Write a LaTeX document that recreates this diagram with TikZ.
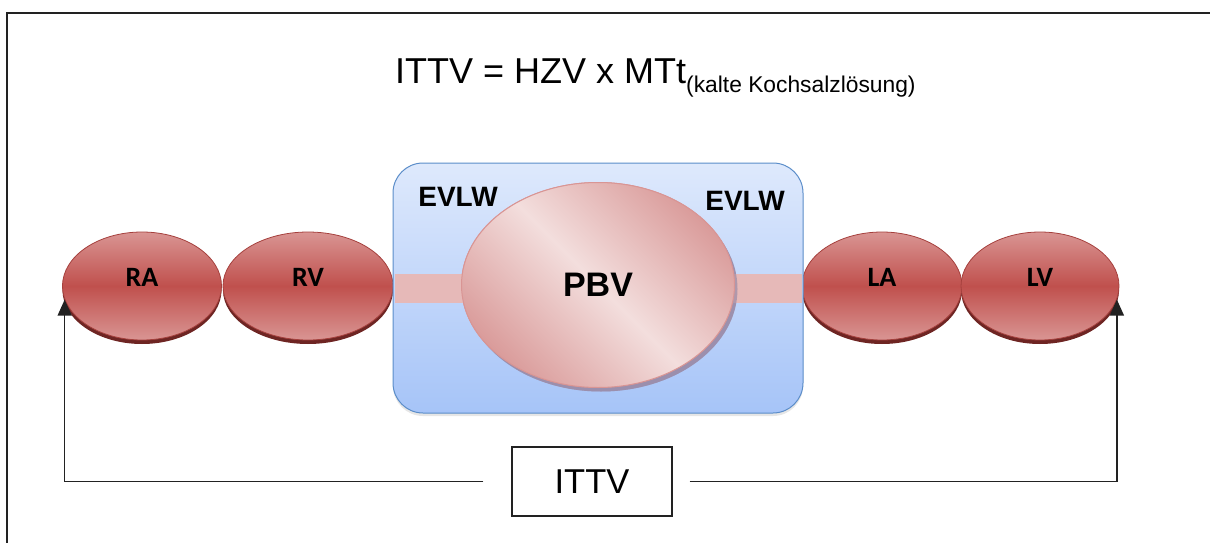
\documentclass[tikz,border=0pt]{standalone}
\usepackage{fontspec}
\setmainfont{Liberation Sans}
\newfontfamily\chamberfont{Carlito}
\usetikzlibrary{shapes.geometric,shadows,arrows.meta,positioning}

\definecolor{chambermid}{HTML}{C0504D}
\definecolor{chamberrim}{HTML}{D99593}
\definecolor{chamberline}{HTML}{A5403D}
\definecolor{chambershade}{HTML}{6E2523}
\definecolor{lungtop}{HTML}{DEE9FC}
\definecolor{lungbot}{HTML}{A6C4F8}
\definecolor{lungline}{HTML}{5B8DC9}
\definecolor{pbvlight}{HTML}{F3DEDD}
\definecolor{pbvdark}{HTML}{DA9C9B}
\definecolor{pbvline}{HTML}{D99594}
\definecolor{pbvshade}{HTML}{9A8AA6}
\definecolor{vessel}{HTML}{E6B9B8}
\definecolor{ink}{HTML}{222222}

\begin{document}
\begin{tikzpicture}[x=1pt, y=-1pt,
    chamber/.style={ellipse, draw=chamberline, line width=0.8pt, inner sep=0pt,
      minimum height=108pt, top color=chamberrim, bottom color=chamberrim,
      middle color=chambermid,
      drop shadow={shadow xshift=0pt, shadow yshift=-4pt, opacity=1, fill=chambershade}},
    chamberlbl/.style={font=\chamberfont\bfseries\fontsize{28}{30}\selectfont, yshift=9pt},
    lungbox/.style={rectangle, rounded corners=30pt, draw=lungline, line width=1pt,
      minimum width=410pt, minimum height=250pt, top color=lungtop, bottom color=lungbot,
      drop shadow={shadow xshift=0pt, shadow yshift=-3pt, opacity=.2}},
    bloodpool/.style={ellipse, draw=pbvline, line width=1pt, inner sep=0pt,
      minimum width=273pt, minimum height=205pt, shading=axis, top color=pbvdark,
      bottom color=pbvdark, middle color=pbvlight, shading angle=-45,
      drop shadow={shadow xshift=3pt, shadow yshift=-4pt, opacity=.7, fill=pbvshade},
      font=\bfseries\fontsize{34}{36}\selectfont},
    water/.style={font=\bfseries\fontsize{28}{30}\selectfont},
    vesselbar/.style={draw=vessel, line width=29pt},
    volbox/.style={draw=ink, line width=1.2pt, minimum width=160pt, minimum height=69pt,
      font=\fontsize{34.5}{36}\selectfont},
    flow/.style={draw=ink, line width=1.4pt, -{Triangle[length=16pt,width=14pt]}}]

  \useasboundingbox (0,0) rectangle (1210,543);
  %% outer frame, only top and left edges show
  \draw[ink, line width=2pt] (7,543) -- (7,13) -- (1210,13);

  %% formula
  \node[anchor=base west, inner sep=0pt] (formula) at (395,84)
    {\fontsize{36}{40}\selectfont ITTV = HZV x MTt\raisebox{-9pt}{\fontsize{22.8}{24}\selectfont (kalte Kochsalzlösung)}};

  %% heart chambers
  \node[chamber, minimum width=159pt, label={[chamberlbl]center:RA}] (RA) at (142,286) {};
  \node[chamber, minimum width=170pt, label={[chamberlbl]center:RV}] (RV) at (308,286) {};
  \node[chamber, minimum width=160pt, label={[chamberlbl]center:LA}] (LA) at (882,286) {};
  \node[chamber, minimum width=158pt, label={[chamberlbl]center:LV}] (LV) at (1040,286) {};

  %% lung with the pulmonary blood volume
  \node[lungbox] (lung) at (598,288) {};
  \node[bloodpool] (PBV) at (598,285) {};
  \draw[vesselbar] ([xshift=2pt]lung.west |- 0,288) -- ([xshift=8pt]PBV.west |- 0,288);
  \draw[vesselbar] ([xshift=-2pt]lung.east |- 0,288) -- ([xshift=-8pt]PBV.east |- 0,288);
  \node[bloodpool, drop shadow={opacity=0}] at (PBV) {PBV};
  \node[water] (evlwL) at (458,197) {EVLW};
  \node[water] (evlwR) at (745,201) {EVLW};

  %% intrathoracic volume loop
  \node[volbox] (ittv) at (592,481.5) {ITTV};
  \draw[flow] ([xshift=-28pt]ittv.west) -| (RA.190);
  \draw[flow] ([xshift=17pt]ittv.east) -| (LV.350);
\end{tikzpicture}
\end{document}
